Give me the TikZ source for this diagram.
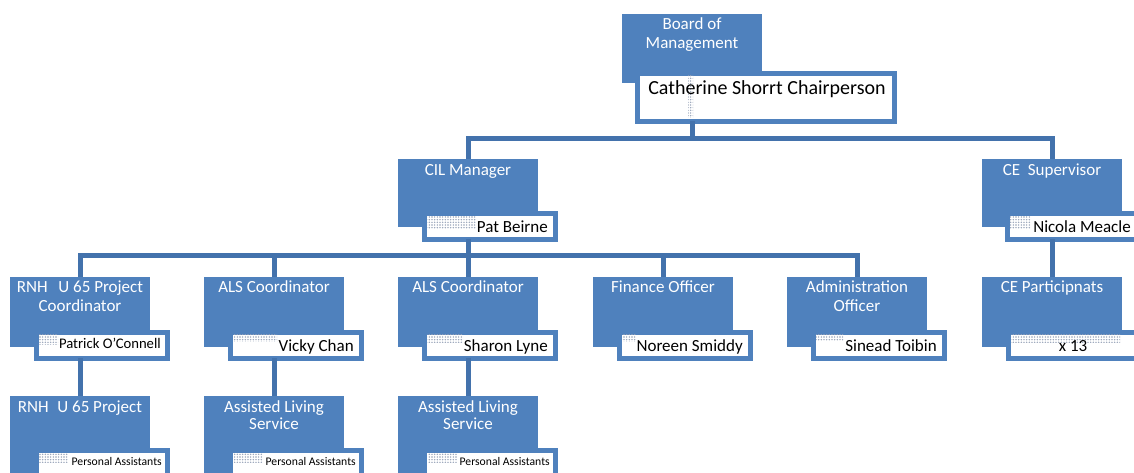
\documentclass[tikz,border=0pt]{standalone}
\usepackage{fontspec}
\setmainfont{Carlito}
\usetikzlibrary{patterns.meta}
\definecolor{boxblue}{RGB}{79,129,189}
\definecolor{lineblue}{RGB}{67,114,172}
\definecolor{dotgray}{RGB}{150,162,184}
\begin{document}
\begin{tikzpicture}[x=0.75pt,y=-0.75pt,
 bluebox/.style={rectangle,fill=boxblue,draw=none,inner sep=0pt,outer sep=0pt,anchor=north west,minimum width=105pt,minimum height=52.5pt},
 namebox/.style={rectangle,fill=white,draw=boxblue,line width=3.75pt,inner sep=0pt,outer sep=0pt,anchor=north west,minimum width=98.25pt,minimum height=19.5pt},
 dots/.style={pattern={Dots[distance=2pt,radius=0.6pt]},pattern color=dotgray},
 ttl/.style={text=white,font=\fontsize{12.75pt}{14.25pt}\selectfont,inner sep=0pt,anchor=base},
 nm/.style={text=black,font=\fontsize{12.75pt}{14.25pt}\selectfont,inner sep=0pt,anchor=base east},
 nmsmall/.style={nm,font=\fontsize{11pt}{13pt}\selectfont},
 nmtiny/.style={nm,font=\fontsize{8.75pt}{10pt}\selectfont},
 conn/.style={draw=lineblue,line width=3.75pt}]
\useasboundingbox (0,0) rectangle (1134,473);
\clip (0,0) rectangle (1134,473);

\coordinate (bar1) at (692,139);
\coordinate (bar2) at (468,256);

% ---- blue boxes ----
\node[bluebox,minimum height=51.75pt] (board) at (622,14) {};
\node[bluebox,minimum height=51pt] (cil) at (398,159) {};
\node[bluebox,minimum height=51pt] (ces) at (982,159) {};
\node[bluebox] (rnh) at (10,277) {};
\node[bluebox] (als1) at (204,277) {};
\node[bluebox] (als2) at (398,277) {};
\node[bluebox] (fin) at (593,277) {};
\node[bluebox] (adm) at (787,277) {};
\node[bluebox] (cep) at (982,277) {};
\node[bluebox,minimum height=60pt] (rnh2) at (10,396) {};
\node[bluebox,minimum height=60pt] (als3) at (204,396) {};
\node[bluebox,minimum height=60pt] (als4) at (398,396) {};

% ---- name boxes ----
\node[namebox,minimum width=192.75pt,minimum height=36pt] (bname) at (637.5,73.5) {};
\node[namebox] (cilname) at (424.5,213.5) {};
\node[namebox,minimum width=105pt] (cesname) at (1007.5,213.5) {};
\node[namebox] (rnhname) at (36.5,332.5) {};
\node[namebox] (als1name) at (230.5,332.5) {};
\node[namebox] (als2name) at (424.5,332.5) {};
\node[namebox] (finname) at (619.5,332.5) {};
\node[namebox] (admname) at (813.5,332.5) {};
\node[namebox,minimum width=105pt] (cepname) at (1008.5,332.5) {};
\node[namebox,minimum height=30pt] (rnh2name) at (36.5,450.5) {};
\node[namebox,minimum height=30pt] (als3name) at (230.5,450.5) {};
\node[namebox,minimum height=30pt] (als4name) at (424.5,450.5) {};

% ---- dotted highlights ----
\path[dots] (688,76) rectangle (693,118);
\path[dots] (427,216) rectangle (476,229);
\path[dots] (1010,216) rectangle (1030,229);
\path[dots] (39,335) rectangle (58,345);
\path[dots] (233,335) rectangle (277,342);
\path[dots] (427,335) rectangle (463,343);
\path[dots] (622,335) rectangle (636,342);
\path[dots] (816,335) rectangle (843,341);
\path[dots] (1011,335) rectangle (1120,343);
\path[dots] (39,453) rectangle (68,462);
\path[dots] (234,453) rectangle (263,462);
\path[dots] (428,453) rectangle (457,462);

% ---- connectors ----
\draw[conn] (board.south |- bname.south) -- (board.south |- bar1);
\draw[conn] (cil.north) |- (bar1) -| (ces.north);
\draw[conn] (cil.south |- cilname.south) -- (cil.south |- bar2);
\draw[conn] (rnh.north) |- (bar2) -| (adm.north);
\draw[conn] (als1.north) -- (als1.north |- bar2);
\draw[conn] (als2.north) -- (als2.north |- bar2);
\draw[conn] (fin.north) -- (fin.north |- bar2);
\draw[conn] (ces.south |- cesname.south) -- (cep.north);
\draw[conn] (rnh.south |- rnhname.south) -- (rnh2.north);
\draw[conn] (als1.south |- als1name.south) -- (als3.north);
\draw[conn] (als2.south |- als2name.south) -- (als4.north);

% ---- texts ----
\node[ttl] (tb1) at (692,30) {Board of};
\node[ttl] (tb2) at (692,49) {Management};
\node[text=black,font=\fontsize{15pt}{18pt}\selectfont,inner sep=0pt,anchor=base] (tcath) at (767,95) {Catherine Shorrt Chairperson};
\node[ttl] (tcil) at (468,176) {CIL Manager};
\node[nm] (tpat) at (548,233) {Pat Beirne};
\node[ttl] (tces) at (1052,176) {CE\ \ Supervisor};
\node[nm] (tnic) at (1131,233) {Nicola Meacle};

\node[ttl] (trnha) at (80,293) {RNH\hspace{8pt}U 65 Project};
\node[ttl] (trnhb) at (80,312) {Coordinator};
\node[ttl] (tals1) at (274,293) {ALS Coordinator};
\node[ttl] (tals2) at (468,293) {ALS Coordinator};
\node[ttl] (tfin) at (663,293) {Finance Officer};
\node[ttl] (tadma) at (857,293) {Administration};
\node[ttl] (tadmb) at (857,312) {Officer};
\node[ttl] (tcep) at (1052,293) {CE Participnats};

\node[nmsmall] (tpoc) at (161,349) {Patrick O'Connell};
\node[nm] (tvic) at (354,352) {Vicky Chan};
\node[nm] (tsha) at (548,352) {Sharon Lyne};
\node[nm] (tnor) at (743,352) {Noreen Smiddy};
\node[nm] (tsin) at (937,352) {Sinead Toibin};
\node[nm,anchor=base] (tx13) at (1073,352) {x 13};

\node[ttl] (trnh2) at (80,412) {RNH\hspace{6.5pt}U 65 Project};
\node[ttl] (tals3a) at (274,412) {Assisted Living};
\node[ttl] (tals3b) at (274,430) {Service};
\node[ttl] (tals4a) at (468,412) {Assisted Living};
\node[ttl] (tals4b) at (468,430) {Service};

\node[nmtiny] (tpa1) at (162,465) {Personal Assistants};
\node[nmtiny] (tpa2) at (356,465) {Personal Assistants};
\node[nmtiny] (tpa3) at (550,465) {Personal Assistants};
\end{tikzpicture}
\end{document}
